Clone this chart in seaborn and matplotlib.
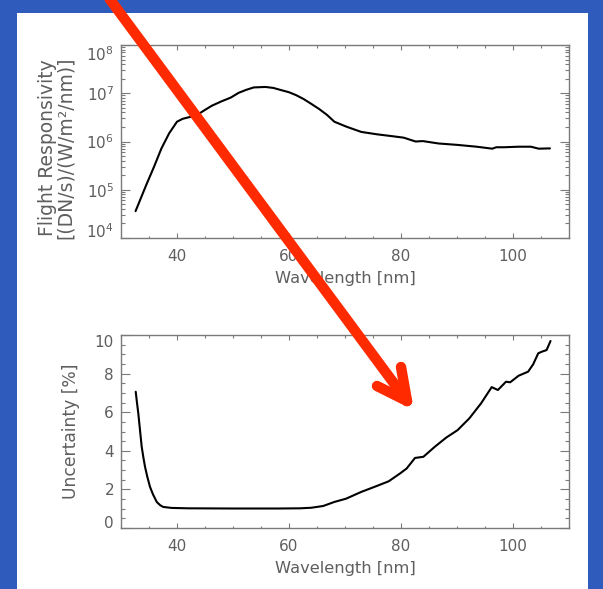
import numpy as np
import pandas as pd
import seaborn as sns
import matplotlib
matplotlib.use("Agg")
import matplotlib.pyplot as plt
from matplotlib.ticker import MultipleLocator, LogLocator, NullFormatter, FixedLocator
from matplotlib.patches import Rectangle
from matplotlib.lines import Line2D
from matplotlib.transforms import IdentityTransform

# ---------------- data ----------------
wl_resp = [32.6, 33.5, 34.5, 35.9, 37.2, 38.6, 40.0, 41.0, 42.0, 43.4, 44.8, 46.2,
           47.9, 49.6, 51.0, 52.3, 53.7, 55.8, 57.2, 58.5, 60.0, 61.3, 62.6, 64.0,
           65.4, 66.8, 68.1, 70.2, 72.9, 75.7, 78.4, 80.5, 82.6, 83.9, 86.7, 90.1,
           93.5, 96.3, 97.0, 98.4, 101.0, 103.2, 104.6, 106.6]
responsivity = [3.6e4, 6.5e4, 1.25e5, 3.0e5, 7.1e5, 1.48e6, 2.57e6, 2.95e6, 3.16e6,
                3.43e6, 4.37e6, 5.5e6, 6.76e6, 8.13e6, 1.02e7, 1.17e7, 1.32e7, 1.35e7,
                1.29e7, 1.17e7, 1.05e7, 9.1e6, 7.6e6, 6.0e6, 4.7e6, 3.55e6, 2.57e6,
                2.04e6, 1.58e6, 1.41e6, 1.29e6, 1.2e6, 1.0e6, 1.02e6, 9.1e5, 8.5e5,
                7.8e5, 7.1e5, 7.6e5, 7.6e5, 7.8e5, 7.8e5, 7.1e5, 7.2e5]

wl_unc = [32.63, 32.85, 33.09, 33.4, 33.7, 34.0, 34.29, 34.7, 35.18, 35.7, 36.38,
          37.0, 37.55, 39.05, 42.0, 50.0, 58.0, 62.0, 64.0, 66.1, 68.1, 70.2, 72.9,
          75.7, 77.8, 79.8, 81.0, 82.5, 84.0, 86.0, 88.1, 90.1, 92.2, 94.3, 96.2,
          97.3, 98.75, 99.5, 101.0, 102.7, 103.6, 104.5, 105.1, 106.0, 106.7]
uncertainty = [7.06, 6.5, 5.94, 5.05, 4.2, 3.65, 3.17, 2.65, 2.13, 1.75, 1.35,
               1.18, 1.09, 1.04, 1.02, 1.01, 1.01, 1.02, 1.05, 1.14, 1.35, 1.52, 1.87,
               2.18, 2.42, 2.82, 3.08, 3.63, 3.69, 4.2, 4.69, 5.07, 5.68, 6.46, 7.30,
               7.15, 7.58, 7.55, 7.89, 8.1, 8.48, 9.05, 9.13, 9.22, 9.69]

x_ticks = [40, 60, 80, 100]
resp_ticks = [1e4, 1e5, 1e6, 1e7, 1e8]
unc_ticks = [0, 2, 4, 6, 8, 10]

df_resp = pd.DataFrame({"wl": wl_resp, "resp": responsivity})
df_unc = pd.DataFrame({"wl": wl_unc, "unc": uncertainty})

# ---------------- style ----------------
sns.set_style("ticks")
plt.rcParams["font.family"] = ["DejaVu Sans"]
GRAY = "#5e5e5e"
SPINE = "#7a7a7a"

W, H = 603, 589
fig = plt.figure(figsize=(W / 100, H / 100), dpi=100)
fig.patch.set_facecolor("#2f5cbc")
fig.patches.append(Rectangle((17 / W, 0), (588 - 17) / W, (H - 13) / H,
                             transform=fig.transFigure, facecolor="white",
                             edgecolor="none", zorder=-5))

ax1 = fig.add_axes([121 / W, 1 - 238 / H, 448 / W, 193 / H])
ax2 = fig.add_axes([121 / W, 1 - 528 / H, 448 / W, 193 / H])

sns.lineplot(data=df_resp, x="wl", y="resp", ax=ax1, color="black", lw=1.5,
             estimator=None, sort=False)
sns.lineplot(data=df_unc, x="wl", y="unc", ax=ax2, color="black", lw=1.5,
             estimator=None, sort=False)

ax1.set_yscale("log")
ax1.set_ylim(1e4, 1e8)
ax2.set_ylim(0, 10)

for ax in (ax1, ax2):
    ax.set_xlim(30, 110)
    ax.xaxis.set_major_locator(FixedLocator(x_ticks))
    ax.xaxis.set_minor_locator(MultipleLocator(5))
    ax.set_facecolor("none")
    for s in ax.spines.values():
        s.set_color(SPINE)
        s.set_linewidth(1.0)
    ax.tick_params(which="both", direction="in", top=True, right=True,
                   color=SPINE, labelcolor=GRAY, labelsize=11, width=0.8)
    ax.tick_params(axis="x", which="major", length=3.5, pad=8)
    ax.tick_params(axis="x", which="minor", length=1.8)
    ax.tick_params(axis="y", which="major", length=6.5, pad=5)
    ax.tick_params(axis="y", which="minor", length=3.2)
    ax.set_xlabel("Wavelength [nm]", color=GRAY, fontsize=11.7, labelpad=5)

ax1.yaxis.set_major_locator(FixedLocator(resp_ticks))
ax1.yaxis.set_minor_locator(LogLocator(base=10, subs=np.arange(2, 10), numticks=20))
ax1.yaxis.set_minor_formatter(NullFormatter())
ax1.set_ylabel("Flight Responsivity\n[(DN/s)/(W/m²/nm)]", color=GRAY, fontsize=13.5,
               linespacing=0.9)
ax1.yaxis.set_label_coords(-0.103, 0.47)

ax2.yaxis.set_major_locator(FixedLocator(unc_ticks))
ax2.yaxis.set_minor_locator(MultipleLocator(0.5))
ax2.set_ylabel("Uncertainty [%]", color=GRAY, fontsize=12.3)
ax2.yaxis.set_label_coords(-0.092, 0.5)

fig.canvas.draw()
for ax in (ax1, ax2):
    labs = ax.get_yticklabels()
    labs[-1].set_verticalalignment("top")
    labs[0].set_verticalalignment("baseline")

# ---------------- red arrow annotation (figure pixels) ----------------
def fp(x, y):
    return x, H - y

red = "#ff2a00"
tip = (407, 401)
for start in [(103, -10), (377, 386), (401, 367)]:
    (x0, y0), (x1, y1) = fp(*start), fp(*tip)
    fig.add_artist(Line2D([x0, x1], [y0, y1], transform=IdentityTransform(),
                          color=red, lw=7.5, solid_capstyle="round", zorder=10))

fig.savefig("out.png", dpi=100, facecolor=fig.get_facecolor())
